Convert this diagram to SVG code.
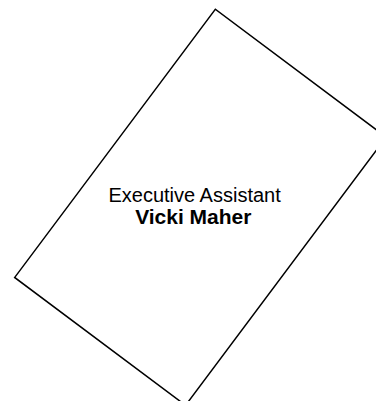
<svg xmlns="http://www.w3.org/2000/svg" width="376" height="401" viewBox="0 0 376 401">
<style>
.box{fill:#fff;stroke:#000;stroke-width:1.5}
.t{font-family:"Liberation Sans",Arial,sans-serif;font-size:20px;fill:#000;text-anchor:middle}
.b{font-weight:bold;font-size:21px}
</style>
<rect width="376" height="401" fill="#fff"/>
<g id="node-vicki-maher">
<rect class="box" x="-106.7" y="-167.5" width="213.4" height="335" transform="translate(200.45 207.3) rotate(36.8)"/>
<text class="t" x="194.6" y="202">Executive Assistant</text>
<text class="t b" x="193.3" y="224">Vicki Maher</text>
</g>
<g id="connectors"/>
</svg>
